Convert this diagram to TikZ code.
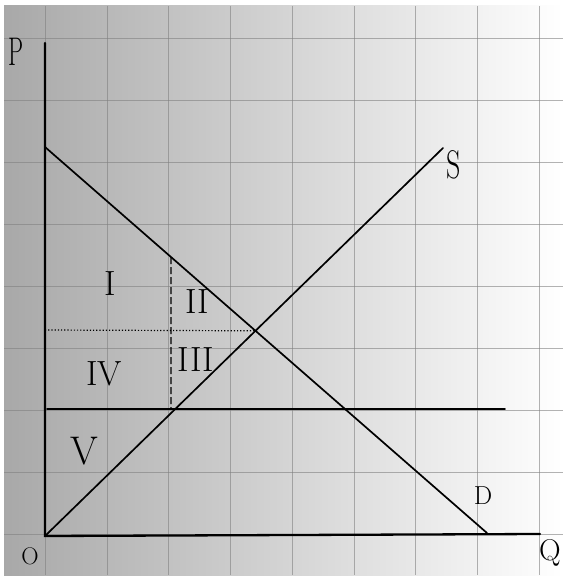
\documentclass[tikz,border=0pt]{standalone}
\usepackage{tikz}
\usetikzlibrary{positioning,calc}
\tikzset{
  axis/.style={line width=2.3pt,line cap=round},
  curve/.style={line width=1.7pt,line cap=round},
  gridln/.style={black!50,line width=0.9pt,opacity=0.6},
  hand/.style={font=\fontsize{26}{26}\selectfont,inner sep=0pt},
  roman/.style={font=\fontsize{35}{35}\selectfont,inner sep=0pt},
}
\begin{document}
\begin{tikzpicture}[x=1pt,y=-1pt]
 \useasboundingbox (0,0) rectangle (566,580);
 \fill[white] (0,0) rectangle (566,580);
 \shade[left color=gray!68,middle color=gray!35,right color=white] (4,6) rectangle (563,575);
 % squared paper
 \foreach \k in {0,...,8}{
   \draw[gridln] (45.5+61.7*\k,6) -- (45.5+61.7*\k,575);
   \draw[gridln] (4,38+62*\k) -- (563,38+62*\k);}
 % points
 \coordinate (O) at (45,536);
 \coordinate (Ptop) at (45,43);
 \coordinate (Qend) at (540,534);
 \coordinate (Dtop) at (45,147);
 \coordinate (Dend) at (487,533);
 \coordinate (Stop) at (443,148);
 \coordinate (Fl) at (47,409);
 \coordinate (Fr) at (505,409);
 \coordinate (E) at (intersection of Dtop--Dend and O--Stop);
 \coordinate (Pe) at (45,330);
 \coordinate (Qa) at (intersection of Dtop--Dend and 171,0--171,600);
 \coordinate (Qb) at (171,408);
 % axes
 \draw[axis] (Ptop) -- (O) -- (Qend);
 % demand, supply, floor
 \draw[curve] (Dtop) -- (Dend);
 \draw[curve] (O) -- (Stop);
 \draw[curve] (Fl) -- (Fr);
 \draw[line width=1.2pt,dotted] (Pe) -- (E);
 \draw[line width=1.3pt,dashed,dash pattern=on 7pt off 3pt] (Qa) -- (Qb);
 % labels
 \node[hand,font=\fontsize{40}{40}\selectfont,xscale=0.6] (lblP) at (16,52) {P};
 \node[hand,font=\fontsize{40}{40}\selectfont,xscale=0.7] (lblS) at (454,165) {S};
 \node[hand] (lblD) at (483,496) {D};
 \node[hand,font=\fontsize{30}{30}\selectfont] (lblQ) at (550,553) {Q};
 \node[hand,font=\fontsize{24}{24}\selectfont] (lblO) at (30,556) {O};
 \node[roman] (r1) at (110,284) {I};
 \node[roman] (r2) at (197,302) {II};
 \node[roman] (r3) at (196,360) {III};
 \node[roman] (r4) at (104,374) {IV};
 \node[roman,font=\fontsize{40}{40}\selectfont] (r5) at (84,451) {V};
\end{tikzpicture}
\end{document}
